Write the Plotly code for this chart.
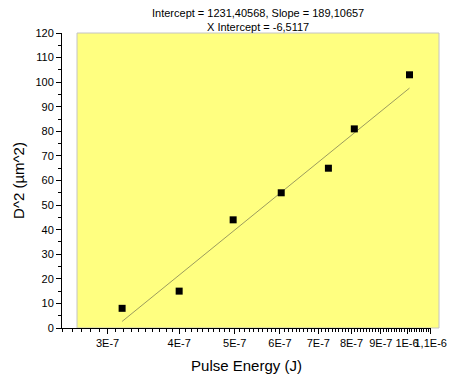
import numpy as np
import plotly.graph_objects as go

# Data
pulse_energy = [3.18e-7, 4.0e-7, 4.97e-7, 6.03e-7, 7.29e-7, 8.09e-7, 1.01e-6]
d_squared = [8, 15, 44, 55, 65, 81, 103]

fit_intercept = 1231.40568
fit_slope = 189.10657
x_intercept = -6.5117

x_tick_vals = [3e-7, 4e-7, 5e-7, 6e-7, 7e-7, 8e-7, 9e-7, 1e-6, 1.1e-6]
x_tick_text = ["3E-7", "4E-7", "5E-7", "6E-7", "7E-7", "8E-7", "9E-7", "1E-6", "1,1E-6"]
x_minor_vals = [v * 1e-8 for v in range(25, 111)]

y_tick_vals = list(range(0, 121, 10))

font_family = "Liberation Sans, Arial, sans-serif"

fit_x = np.array([min(pulse_energy), max(pulse_energy)])
fit_y = fit_intercept + fit_slope * np.log10(fit_x)

fig = go.Figure()
fig.add_trace(go.Scatter(
    x=fit_x, y=fit_y, mode="lines",
    line=dict(color="#9c9c5e", width=1),
    showlegend=False, hoverinfo="skip",
))
fig.add_trace(go.Scatter(
    x=pulse_energy, y=d_squared, mode="markers",
    marker=dict(symbol="square", size=7, color="black", line=dict(width=0)),
    showlegend=False,
))

# yellow layer background
fig.add_shape(type="rect", xref="paper", yref="paper",
              x0=(77 - 62) / 369, x1=(439 - 62) / 369, y0=0, y1=1,
              fillcolor="#FFFF80", line=dict(color="#c4c4c4", width=1),
              layer="below")

title_text = (f"Intercept = {str(fit_intercept).replace('.', ',')}, "
              f"Slope = {str(fit_slope).replace('.', ',')}<br>"
              f"X Intercept = {str(x_intercept).replace('.', ',')}")
fig.add_annotation(
    text=title_text, showarrow=False,
    xref="paper", x=(258 - 62) / 369, xanchor="center",
    yref="paper", y=1, yshift=-2, yanchor="bottom",
    font=dict(size=11, family=font_family, color="black"),
)

fig.update_layout(
    width=449, height=378,
    margin=dict(l=62, r=18, t=33, b=50),
    paper_bgcolor="white", plot_bgcolor="rgba(0,0,0,0)",
    font=dict(family=font_family, color="black"),
    xaxis=dict(
        type="log",
        range=[np.log10(2.5e-7) - 0.0005, np.log10(1.1e-6) + 0.0005],
        tickmode="array", tickvals=x_tick_vals, ticktext=x_tick_text,
        tickangle=0, automargin=False,
        ticks="outside", ticklen=5, tickwidth=1, tickcolor="black",
        minor=dict(tickmode="array", tickvals=x_minor_vals, ticks="outside",
                   ticklen=3, tickwidth=1, tickcolor="black", showgrid=False),
        showline=True, linecolor="black", linewidth=1,
        showgrid=False, zeroline=False,
        tickfont=dict(size=11, family=font_family),
        title=dict(text="Pulse Energy (J)", font=dict(size=15, family=font_family), standoff=12),
    ),
    yaxis=dict(
        range=[0, 120], automargin=False,
        tickmode="array", tickvals=y_tick_vals,
        ticks="outside", ticklen=5, tickwidth=1, tickcolor="black",
        minor=dict(dtick=5, tick0=0, ticks="outside", ticklen=3, tickwidth=1,
                   tickcolor="black", showgrid=False),
        showline=True, linecolor="black", linewidth=1,
        showgrid=False, zeroline=False,
        tickfont=dict(size=11, family=font_family),
        title=dict(text="D^2 (µm^2)", font=dict(size=15, family=font_family), standoff=7),
    ),
)

fig.write_html("out.html", config={"displayModeBar": False})
